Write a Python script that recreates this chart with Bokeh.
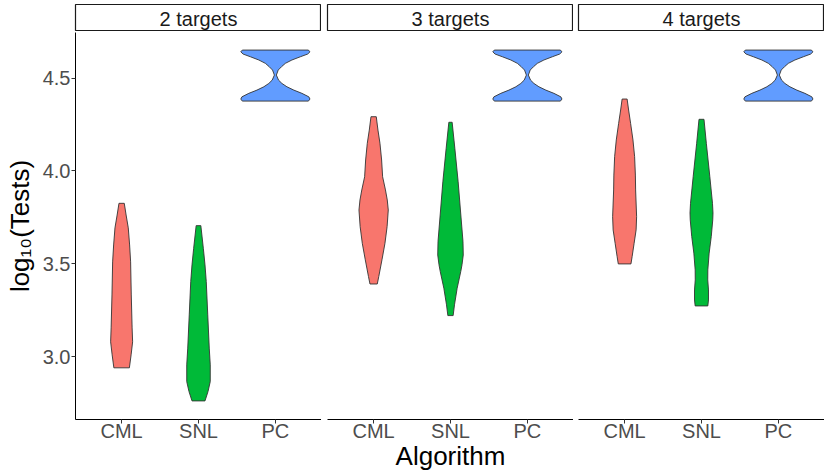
from bokeh.plotting import figure
from bokeh.models import Range1d, FixedTicker, ColumnDataSource, PrintfTickFormatter
from bokeh.layouts import column, row
from bokeh.embed import file_html
from bokeh.resources import INLINE
from bokeh.core.properties import value

# ---------------- data ----------------
facets = ["2 targets", "3 targets", "4 targets"]
algorithms = ["CML", "SNL", "PC"]
colors = ["#F8766D", "#00BA38", "#619CFF"]
y_ticks = [3.0, 3.5, 4.0, 4.5]
x_title = "Algorithm"
y_title = "log\u2081\u2080(Tests)"

# violin profiles: log10(Tests) value and full violin width (x units)
cml_2_y = [3.826, 3.763, 3.694, 3.602, 3.511, 3.333, 3.156, 3.081, 3.011, 2.941]
cml_2_w = [0.069, 0.117, 0.173, 0.208, 0.234, 0.251, 0.273, 0.286, 0.247, 0.202]

snl_2_y = [3.706, 3.584, 3.495, 3.405, 3.226, 3.047, 2.957, 2.867, 2.813, 2.763]
snl_2_w = [0.061, 0.126, 0.169, 0.202, 0.241, 0.280, 0.306, 0.306, 0.247, 0.169]

cml_3_y = [4.292, 4.220, 4.149, 4.059, 3.969, 3.898, 3.844, 3.790, 3.701, 3.611, 3.522, 3.432, 3.392]
cml_3_w = [0.069, 0.113, 0.165, 0.208, 0.234, 0.308, 0.355, 0.381, 0.351, 0.295, 0.217, 0.134, 0.095]

snl_3_y = [4.262, 4.122, 3.942, 3.763, 3.620, 3.548, 3.495, 3.459, 3.369, 3.280, 3.222]
snl_3_w = [0.043, 0.113, 0.199, 0.269, 0.325, 0.332, 0.299, 0.267, 0.173, 0.104, 0.069]

cml_4_y = [4.387, 4.328, 4.256, 4.167, 4.077, 3.978, 3.898, 3.754, 3.683, 3.611, 3.539, 3.500]
cml_4_w = [0.065, 0.104, 0.156, 0.217, 0.260, 0.280, 0.286, 0.312, 0.299, 0.247, 0.195, 0.165]

snl_4_y = [4.278, 4.149, 3.969, 3.826, 3.774, 3.737, 3.647, 3.558, 3.468, 3.414, 3.360, 3.306, 3.274]
snl_4_w = [0.065, 0.126, 0.217, 0.286, 0.299, 0.293, 0.254, 0.199, 0.165, 0.163, 0.182, 0.182, 0.165]

pc_y = [4.6505, 4.641, 4.629, 4.6145, 4.597, 4.579, 4.561, 4.543, 4.516,
        4.489, 4.471, 4.453, 4.435, 4.4177, 4.399, 4.387, 4.376]
pc_w = [0.86, 0.90, 0.84, 0.65, 0.43, 0.26, 0.16, 0.074, 0.026,
        0.082, 0.17, 0.30, 0.48, 0.69, 0.87, 0.90, 0.86]

panel_profiles = [
    [(cml_2_y, cml_2_w), (snl_2_y, snl_2_w), (pc_y, pc_w)],
    [(cml_3_y, cml_3_w), (snl_3_y, snl_3_w), (pc_y, pc_w)],
    [(cml_4_y, cml_4_w), (snl_4_y, snl_4_w), (pc_y, pc_w)],
]

# ---------------- layout / style ----------------
FONT = "Liberation Sans"
Y0, Y1 = 2.663, 4.745
FRAME_W, FRAME_H = 246, 387
STRIP_H = 27
LEFT = [75, 6, 5]

strips = []
panels = []
for i, facet in enumerate(facets):
    s = figure(frame_width=FRAME_W, frame_height=STRIP_H,
               min_border_left=LEFT[i], min_border_right=0,
               min_border_top=4, min_border_bottom=0,
               x_range=Range1d(0, 1), y_range=Range1d(0, 1),
               x_axis_location=None, y_axis_location=None,
               toolbar_location=None, output_backend="svg")
    s.grid.visible = False
    s.outline_line_color = "#1A1A1A"
    s.outline_line_width = 1.2
    s.text(x=[0.5], y=[0.47], text=[facet], text_align="center",
           text_baseline="middle", text_font=value(FONT),
           text_font_size="20px", text_color="#1A1A1A")
    strips.append(s)

    p = figure(frame_width=FRAME_W, frame_height=FRAME_H,
               min_border_left=LEFT[i], min_border_right=0,
               min_border_top=1, min_border_bottom=0,
               x_range=Range1d(0.4, 3.6), y_range=Range1d(Y0, Y1),
               y_axis_location="left" if i == 0 else None,
               toolbar_location=None, output_backend="svg")
    p.grid.visible = False
    p.outline_line_color = None

    xs, ys, fills = [], [], []
    for j, (vy, vw) in enumerate(panel_profiles[i]):
        c = j + 1
        left = [c - w / 2 for w in vw]
        right = [c + w / 2 for w in vw]
        xs.append(left + right[::-1])
        ys.append(list(vy) + list(vy)[::-1])
        fills.append(colors[j])
    src = ColumnDataSource(dict(xs=xs, ys=ys, fill=fills))
    p.patches("xs", "ys", source=src, fill_color="fill", fill_alpha=1,
              line_color="#333333", line_width=0.9)

    xa = p.xaxis[0]
    xa.ticker = FixedTicker(ticks=[1, 2, 3])
    xa.major_label_overrides = {k + 1: a for k, a in enumerate(algorithms)}
    xa.axis_line_color = "black"
    xa.axis_line_width = 1
    xa.major_tick_line_color = "#333333"
    xa.major_tick_out = 4
    xa.major_tick_in = 0
    xa.minor_tick_line_color = None
    xa.major_label_text_font = FONT
    xa.major_label_text_font_size = "20px"
    xa.major_label_text_color = "#4D4D4D"
    xa.major_label_standoff = -4

    if i == 1:
        xa.axis_label = x_title
        xa.axis_label_text_font = FONT
        xa.axis_label_text_font_size = "26px"
        xa.axis_label_text_font_style = "normal"
        xa.axis_label_text_color = "black"
        xa.axis_label_standoff = -4

    if i == 0:
        ya = p.yaxis[0]
        ya.ticker = FixedTicker(ticks=y_ticks)
        ya.formatter = PrintfTickFormatter(format="%.1f")
        ya.axis_line_color = "black"
        ya.axis_line_width = 1
        ya.major_tick_line_color = "#333333"
        ya.major_tick_out = 4
        ya.major_tick_in = 0
        ya.minor_tick_line_color = None
        ya.major_label_text_font = FONT
        ya.major_label_text_font_size = "20px"
        ya.major_label_text_color = "#4D4D4D"
        ya.major_label_standoff = 1
        ya.axis_label = y_title
        ya.axis_label_text_font = FONT
        ya.axis_label_text_font_size = "26px"
        ya.axis_label_text_font_style = "normal"
        ya.axis_label_text_color = "black"
        ya.axis_label_standoff = 5
    panels.append(p)

layout = column(row(*strips), row(*panels))
open("out.html", "w").write(file_html(layout, INLINE))
